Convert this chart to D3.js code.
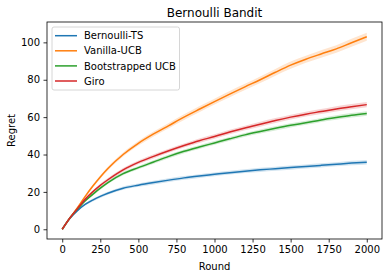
<!DOCTYPE html>
<html>
<head>
<meta charset="utf-8">
<script src="https://cdn.jsdelivr.net/npm/d3@7"></script>
<style>
	body { margin: 0; background: #fff; }
	text { font-family: "DejaVu Sans", sans-serif; fill: #000; }
</style>
</head>
<body>
<svg id="chart"></svg>
<script>
// Data
const rounds = [0, 50, 100, 150, 200, 250, 300, 400, 500, 600, 700, 800, 900, 1000, 1100, 1200, 1300, 1400, 1500, 1600, 1700, 1800, 1900, 2000];
const bernoulliTS = [0, 5.8, 10, 13.3, 15.6, 17.6, 19.3, 22, 23.6, 25, 26.3, 27.5, 28.5, 29.4, 30.3, 31.1, 31.8, 32.4, 33, 33.6, 34.2, 34.8, 35.4, 35.9];
const vanillaUCB = [0, 6, 11.5, 17.5, 23, 28, 32.5, 40, 46, 51, 55.5, 60, 64.2, 68.3, 72.3, 76.2, 80, 84, 87.8, 91, 93.8, 96.5, 99.8, 103];
const bootstrappedUCB = [0, 6, 10.8, 15.2, 18.7, 22, 25, 29.8, 33, 36, 39, 41.7, 44, 46.2, 48.4, 50.5, 52.3, 54, 55.6, 57, 58.5, 59.8, 61, 62];
const giro = [0, 6, 11, 16, 20, 23.5, 26.5, 31.8, 35.8, 39, 42, 44.8, 47.4, 49.6, 52, 54.2, 56.2, 58.2, 60, 61.6, 63, 64.4, 65.6, 66.7];
// half width of the shaded bands
const bandTS = [0, 0.3, 0.5, 0.6, 0.7, 0.8, 0.8, 0.9, 0.9, 1, 1, 1, 1, 1, 1, 1, 1.1, 1.1, 1.1, 1.1, 1.1, 1.1, 1.2, 1.2];
const bandVanilla = [0, 0.3, 0.5, 0.7, 0.8, 0.9, 1, 1.1, 1.2, 1.3, 1.4, 1.5, 1.6, 1.6, 1.7, 1.7, 1.8, 1.8, 1.9, 1.9, 2, 2, 2.1, 2.1];
const bandBoot = [0, 0.3, 0.5, 0.6, 0.7, 0.8, 0.8, 0.9, 0.9, 1, 1, 1, 1, 1, 1, 1, 1.1, 1.1, 1.1, 1.1, 1.1, 1.2, 1.2, 1.2];
const bandGiro = [0, 0.3, 0.5, 0.6, 0.7, 0.8, 0.9, 1, 1, 1.1, 1.1, 1.1, 1.2, 1.2, 1.2, 1.2, 1.3, 1.3, 1.3, 1.3, 1.3, 1.4, 1.4, 1.4];
const labels = ["Bernoulli-TS", "Vanilla-UCB", "Bootstrapped UCB", "Giro"];
const colors = ["#1f77b4", "#ff7f0e", "#2ca02c", "#d62728"];
const xTicks = [0, 250, 500, 750, 1000, 1250, 1500, 1750, 2000];
const yTicks = [0, 20, 40, 60, 80, 100];

const series = [
	{name: labels[0], values: bernoulliTS, band: bandTS, color: colors[0]},
	{name: labels[1], values: vanillaUCB, band: bandVanilla, color: colors[1]},
	{name: labels[2], values: bootstrappedUCB, band: bandBoot, color: colors[2]},
	{name: labels[3], values: giro, band: bandGiro, color: colors[3]}
];

const svgWidth = 392, svgHeight = 278;
const margin = {top: 22, right: 10, bottom: 39, left: 47};
const width = svgWidth - margin.left - margin.right,
	height = svgHeight - margin.top - margin.bottom;

const svg = d3.select('#chart')
	.attr("width", svgWidth)
	.attr("height", svgHeight);

const g = svg.append("g")
	.attr("transform", "translate(" + margin.left + "," + margin.top + ")");

const x = d3.scaleLinear().domain([-100, 2100]).range([0, width]);
const y = d3.scaleLinear().domain([-5.2, 110.9]).range([height, 0]);

// Shaded bands
series.forEach(s => {
	const area = d3.area()
		.x((d, i) => x(rounds[i]))
		.y0((d, i) => y(d - s.band[i]))
		.y1((d, i) => y(d + s.band[i]))
		.curve(d3.curveMonotoneX);
	g.append("path")
		.datum(s.values)
		.attr("d", area)
		.style("fill", s.color)
		.style("fill-opacity", 0.2)
		.style("stroke", "none");
});

// Lines
series.forEach(s => {
	const line = d3.line()
		.x((d, i) => x(rounds[i]))
		.y(d => y(d))
		.curve(d3.curveMonotoneX);
	g.append("path")
		.datum(s.values)
		.attr("d", line)
		.style("fill", "none")
		.style("stroke", s.color)
		.style("stroke-width", 1.5);
});

// Axes
const xAxis = g.append("g")
	.attr("transform", "translate(0," + height + ")")
	.call(d3.axisBottom(x).tickValues(xTicks).tickFormat(d3.format("d")).tickSizeInner(3.5).tickSizeOuter(0).tickPadding(3.5));
const yAxis = g.append("g")
	.call(d3.axisLeft(y).tickValues(yTicks).tickFormat(d3.format("d")).tickSizeInner(3.5).tickSizeOuter(0).tickPadding(3.5));
[xAxis, yAxis].forEach(a => {
	a.select(".domain").remove();
	a.selectAll("line").style("stroke", "#000").style("stroke-width", 0.8);
	a.selectAll("text").style("font-size", "10px").style("font-family", "DejaVu Sans").style("fill", "#000");
});

// Frame
g.append("rect")
	.attr("width", width)
	.attr("height", height)
	.style("fill", "none")
	.style("stroke", "#000")
	.style("stroke-width", 0.8);

// Title and axis labels
svg.append("text")
	.attr("x", margin.left + width / 2)
	.attr("y", 17)
	.attr("text-anchor", "middle")
	.style("font-size", "12px")
	.text("Bernoulli Bandit");
svg.append("text")
	.attr("x", margin.left + width / 2)
	.attr("y", 270)
	.attr("text-anchor", "middle")
	.style("font-size", "10px")
	.text("Round");
svg.append("text")
	.attr("transform", "translate(15," + (margin.top + height / 2) + ") rotate(-90)")
	.attr("text-anchor", "middle")
	.style("font-size", "10px")
	.text("Regret");

// Legend
const legend = svg.append("g").attr("transform", "translate(52,27)");
legend.append("rect")
	.attr("width", 127.5)
	.attr("height", 63)
	.attr("rx", 2)
	.style("fill", "#fff")
	.style("fill-opacity", 0.8)
	.style("stroke", "#ccc")
	.style("stroke-width", 0.8);
series.forEach((s, i) => {
	const row = legend.append("g").attr("transform", "translate(0," + (8.7 + i * 15.1) + ")");
	row.append("line")
		.attr("x1", 3).attr("x2", 25)
		.style("stroke", s.color)
		.style("stroke-width", 1.5);
	row.append("text")
		.attr("x", 32)
		.attr("y", 3.6)
		.style("font-size", "10px")
		.text(s.name);
});
</script>
</body>
</html>
